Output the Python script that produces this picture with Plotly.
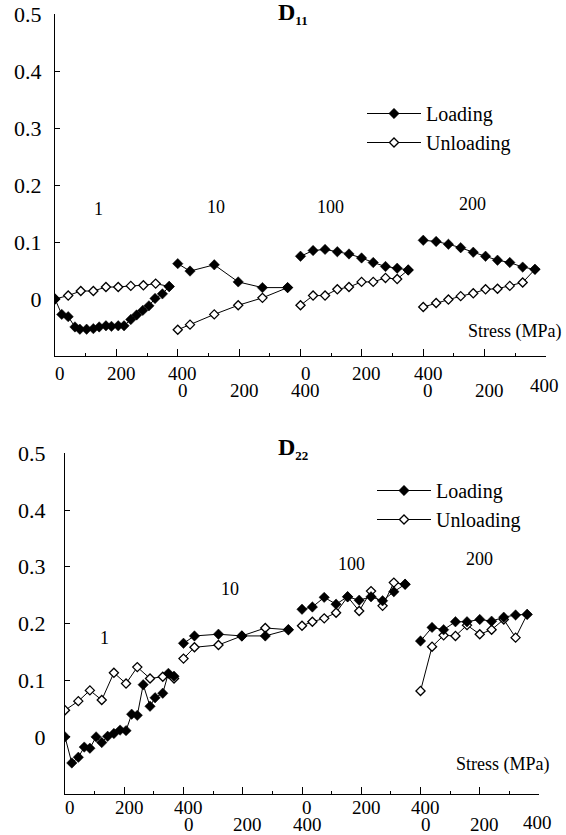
import plotly.graph_objects as go

FONT = "Liberation Serif, Times New Roman, serif"
W, H = 566, 835

CYCLES = ["1", "10", "100", "200"]
SEG_SPAN = 400  # each cycle block spans 0-400 MPa on the shared axis

# ---------------- D11 (top panel) ----------------
d11_load_stress = [
    [0, 22, 43, 65, 81, 103, 125, 144, 166, 184, 206, 225, 247, 266, 286, 306, 326, 350, 372],
    [0, 40, 119, 197, 276, 358],
    [0, 41, 80, 120, 158, 199, 237, 277, 315, 351],
    [0, 42, 82, 122, 163, 203, 242, 282, 324, 364],
]
d11_load_value = [
    [0.000, -0.027, -0.031, -0.049, -0.053, -0.053, -0.052, -0.049, -0.047, -0.048,
     -0.047, -0.047, -0.036, -0.028, -0.020, -0.012, 0.001, 0.009, 0.022],
    [0.062, 0.049, 0.060, 0.030, 0.020, 0.020],
    [0.075, 0.085, 0.087, 0.083, 0.079, 0.072, 0.064, 0.057, 0.054, 0.051],
    [0.103, 0.101, 0.096, 0.090, 0.082, 0.075, 0.068, 0.064, 0.056, 0.052],
]
d11_unload_stress = [
    [0, 43, 84, 125, 166, 206, 247, 288, 328, 372],
    [0, 40, 119, 197, 276, 358],
    [0, 41, 80, 120, 158, 199, 237, 277, 315, 351],
    [0, 42, 82, 122, 163, 203, 242, 282, 324, 364],
]
d11_unload_value = [
    [0.000, 0.006, 0.014, 0.014, 0.021, 0.021, 0.023, 0.024, 0.027, 0.022],
    [-0.054, -0.045, -0.027, -0.011, 0.002, 0.020],
    [-0.011, 0.006, 0.006, 0.017, 0.021, 0.030, 0.030, 0.037, 0.035, 0.051],
    [-0.014, -0.007, -0.001, 0.005, 0.010, 0.017, 0.018, 0.023, 0.029, 0.052],
]

# ---------------- D22 (bottom panel) ----------------
d22_load_stress = [
    [0, 23, 45, 65, 84, 105, 124, 144, 165, 186, 206, 225, 244, 264, 287, 304, 330, 349, 368],
    [0, 37, 118, 197, 276, 354],
    [0, 35, 75, 115, 154, 193, 233, 272, 310, 348],
    [0, 39, 78, 118, 157, 200, 240, 281, 321, 360],
]
d22_load_value = [
    [0.000, -0.046, -0.036, -0.018, -0.020, 0.000, -0.010, 0.001, 0.006, 0.012,
     0.011, 0.040, 0.038, 0.092, 0.054, 0.069, 0.077, 0.112, 0.107],
    [0.165, 0.178, 0.181, 0.178, 0.178, 0.189],
    [0.225, 0.229, 0.246, 0.234, 0.247, 0.241, 0.247, 0.240, 0.256, 0.269],
    [0.169, 0.193, 0.189, 0.203, 0.203, 0.207, 0.204, 0.211, 0.215, 0.216],
]
d22_unload_stress = [
    [0, 45, 84, 124, 165, 206, 244, 287, 330, 368],
    [0, 37, 118, 197, 276, 354],
    [0, 35, 75, 115, 154, 193, 233, 272, 310, 348],
    [0, 39, 78, 118, 157, 200, 240, 281, 321, 360],
]
d22_unload_value = [
    [0.047, 0.063, 0.082, 0.065, 0.113, 0.094, 0.123, 0.103, 0.106, 0.103],
    [0.138, 0.158, 0.162, 0.178, 0.192, 0.189],
    [0.196, 0.203, 0.209, 0.219, 0.247, 0.222, 0.257, 0.231, 0.272, 0.269],
    [0.081, 0.159, 0.179, 0.178, 0.197, 0.181, 0.189, 0.207, 0.175, 0.216],
]

# axis tick labels (two staggered rows of local stress values)
row1_ticks = [0, 200, 400, 800, 1000, 1200]
row1_text = ["0", "200", "400", "0", "200", "400"]
row2_ticks = [400, 600, 800, 1200, 1400, 1600]
row2_text = ["0", "200", "400", "0", "200", "400"]
y_ticks = [0, 0.1, 0.2, 0.3, 0.4, 0.5]
y_text = ["0", "0.1", "0.2", "0.3", "0.4", "0.5"]


def concat(stress_sets, value_sets):
    xs, ys = [], []
    for k, (s, v) in enumerate(zip(stress_sets, value_sets)):
        xs += [si + SEG_SPAN * k for si in s] + [None]
        ys += list(v) + [None]
    return xs, ys


fig = go.Figure()

panels = [
    dict(xa="x", ya="y", legend="legend",
         load=(d11_load_stress, d11_load_value), unload=(d11_unload_stress, d11_unload_value)),
    dict(xa="x2", ya="y2", legend="legend2",
         load=(d22_load_stress, d22_load_value), unload=(d22_unload_stress, d22_unload_value)),
]

for p in panels:
    xl, yl = concat(*p["load"])
    xu, yu = concat(*p["unload"])
    fig.add_trace(go.Scatter(
        x=xu, y=yu, mode="lines+markers", name="Unloading", xaxis=p["xa"], yaxis=p["ya"],
        legend=p["legend"], legendrank=2,
        line=dict(color="black", width=1),
        marker=dict(symbol="diamond", size=7, color="white", line=dict(color="black", width=1.3)),
        connectgaps=False,
    ))
    fig.add_trace(go.Scatter(
        x=xl, y=yl, mode="lines+markers", name="Loading", xaxis=p["xa"], yaxis=p["ya"],
        legend=p["legend"], legendrank=1,
        line=dict(color="black", width=1),
        marker=dict(symbol="diamond", size=8, color="black", line=dict(color="black", width=0.5)),
        connectgaps=False,
    ))

top_dom_x = [55 / W, 546 / W]
top_dom_y = [1 - 356 / H, 1 - 14 / H]
bot_dom_x = [65 / W, 539 / W]
bot_dom_y = [1 - 793.6 / H, 1 - 453.3 / H]


def xaxis_cfg(domain, anchor):
    return dict(domain=domain, anchor=anchor, range=[0, 1600], showgrid=False, zeroline=False,
                automargin=False,
                showline=True, linecolor="black", linewidth=1,
                ticks="inside", tickvals=list(range(0, 1601, 200)), ticklen=7, tickcolor="black",
                tickwidth=1, showticklabels=False,
                minor=dict(ticks="inside", tickvals=list(range(100, 1600, 200)), ticklen=3,
                           tickcolor="black", tickwidth=1))


def yaxis_cfg(domain, anchor, standoff):
    return dict(domain=domain, anchor=anchor, range=[-0.1, 0.5], showgrid=False, zeroline=False,
                automargin=False,
                showline=True, linecolor="black", linewidth=1,
                ticks="inside", tickvals=y_ticks, ticktext=y_text, ticklen=5, tickcolor="black",
                tickwidth=1, ticklabelstandoff=standoff,
                tickfont=dict(family=FONT, size=22, color="black"))


fig.update_layout(
    width=W, height=H, margin=dict(l=0, r=0, t=0, b=0, autoexpand=False),
    paper_bgcolor="white", plot_bgcolor="white",
    font=dict(family=FONT, color="black"),
    xaxis=xaxis_cfg(top_dom_x, "y"),
    yaxis=yaxis_cfg(top_dom_y, "x", 8),
    xaxis2=xaxis_cfg(bot_dom_x, "y2"),
    yaxis2=yaxis_cfg(bot_dom_y, "x2", 14),
    legend=dict(x=362 / W, y=1 - 94 / H, xanchor="left", yanchor="top",
                bgcolor="rgba(0,0,0,0)", font=dict(family=FONT, size=20, color="black"),
                itemwidth=54, tracegroupgap=0),
    legend2=dict(x=372 / W, y=1 - 471 / H, xanchor="left", yanchor="top",
                 bgcolor="rgba(0,0,0,0)", font=dict(family=FONT, size=20, color="black"),
                 itemwidth=54, tracegroupgap=0),
    showlegend=True,
)

annotations = []

# staggered x tick labels
for xa, r1y, r2y, last_y in [("x", 373, 391, 385), ("x2", 807, 824, 822)]:
    for v, t in zip(row1_ticks, row1_text):
        annotations.append(dict(x=v, y=1 - r1y / H, xref=xa, yref="paper", text=t, showarrow=False,
                                xshift=5, xanchor="center", yanchor="middle",
                                font=dict(family=FONT, size=19, color="black")))
    for v, t in zip(row2_ticks, row2_text):
        last = v == row2_ticks[-1]
        annotations.append(dict(x=v, y=1 - (last_y if last else r2y) / H, xref=xa, yref="paper",
                                text=t, showarrow=False, xshift=-2 if last else 5,
                                xanchor="center", yanchor="middle",
                                font=dict(family=FONT, size=19, color="black")))

# cycle labels
cycle_pos_top = [(143, 0.158), (524, 0.161), (898, 0.161), (1359, 0.167)]
cycle_pos_bot = [(132, 0.174), (557, 0.260), (967, 0.305), (1400, 0.313)]
for xa, ya, pos in [("x", "y", cycle_pos_top), ("x2", "y2", cycle_pos_bot)]:
    for lab, (cx, cy) in zip(CYCLES, pos):
        annotations.append(dict(x=cx, y=cy, xref=xa, yref=ya, text=lab, showarrow=False,
                                font=dict(family=FONT, size=18, color="black")))

# axis title
annotations.append(dict(x=1498, y=-0.057, xref="x", yref="y", text="Stress (MPa)", showarrow=False,
                        font=dict(family=FONT, size=18, color="black")))
annotations.append(dict(x=1478, y=-0.048, xref="x2", yref="y2", text="Stress (MPa)", showarrow=False,
                        font=dict(family=FONT, size=18, color="black")))

# panel titles
for sub, ty in [("11", 0), ("22", 435)]:
    annotations.append(dict(x=276 / W, y=1 - ty / H, xref="paper", yref="paper",
                            xanchor="left", yanchor="top", showarrow=False, yshift=3,
                            text="<b>D</b><sub><b><span style='font-size:13px'>" + sub + "</span></b></sub>",
                            font=dict(family=FONT, size=24, color="black")))

fig.update_layout(annotations=annotations)
fig.write_html("out.html", config={"displayModeBar": False},
               post_script="document.body.style.margin='0';document.body.style.overflow='hidden';")
